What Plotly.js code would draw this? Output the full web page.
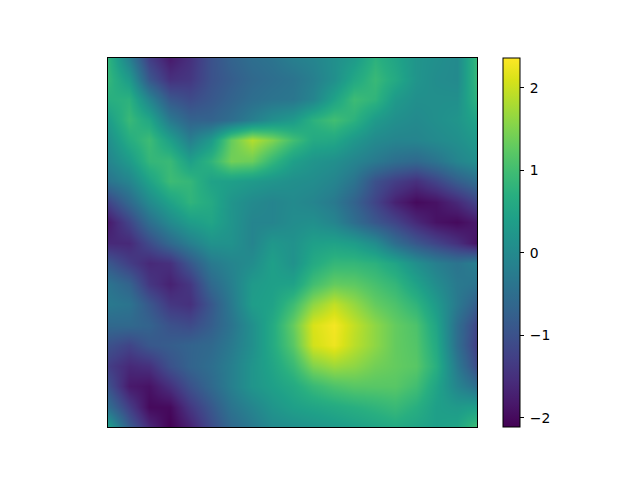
<!DOCTYPE html>
<html><head><meta charset="utf-8">
<script src="https://cdn.plot.ly/plotly-3.0.1.min.js"></script>
<style>html,body{margin:0;padding:0;background:#fff}</style></head>
<body><div id="c" style="width:640px;height:480px"></div>
<script>
const xs=[0,1,2,3,4,5,6,7,8,9,10,11,12,13,14,15,16,17,18];
const ys=[0,1,2,3,4,5,6,7,8,9,10,11,12,13,14,15,16,17,18];
const colorbarTicks=[-2,-1,0,1,2];
const zValues=[
[.8,-.2,-1.3,-1.8,-1.5,-1,-.7,-.5,-.4,-.2,-.1,.1,.3,.75,.5,.2,.1,0,.9],
[.85,.3,-.9,-1.5,-1.4,-1,-.8,-.6,-.5,-.4,-.2,.1,.55,.9,.6,.2,.05,0,.9],
[.7,.75,-.1,-.9,-1.1,-.9,-.7,-.5,-.4,-.35,-.1,.45,.95,.8,.3,.1,.1,.1,.8],
[.35,.9,.55,-.3,-.7,-.7,-.5,-.2,.1,.3,.75,1,.75,.3,.1,0,.1,.2,.5],
[.1,.65,.95,.4,-.2,.3,1.3,1.85,1.5,1,.6,.55,.25,0,-.1,-.1,0,.1,.3],
[-.1,.3,.85,.9,.4,.8,1.4,1.35,.85,.4,.2,.1,-.1,-.3,-.5,-.6,-.4,-.1,.1],
[-.4,-.1,.45,.95,.85,.45,.4,.3,.2,.1,.05,-.1,-.4,-1,-1.3,-1.5,-1.2,-.8,-.5],
[-1.2,-.6,0,.45,.8,.6,.2,0,-.1,0,-.1,-.3,-.7,-1.2,-1.7,-2,-1.9,-1.6,-1.2],
[-1.8,-1.2,-.5,0,.35,.5,.2,-.1,-.1,.05,.1,-.1,-.5,-.9,-1.2,-1.6,-1.9,-2,-1.8],
[-1.6,-1.6,-1.1,-.6,-.2,.15,.15,-.1,.25,.15,.4,.45,.35,.05,-.5,-.9,-1.2,-1.5,-1.9],
[-.9,-1.3,-1.6,-1.5,-.9,-.3,-.1,.05,.4,.15,.6,.85,.85,.75,.5,.1,-.2,-.4,-.2],
[-.4,-.7,-1.4,-1.7,-1.4,-.6,-.2,.3,.4,.45,1,1.3,1.25,1.05,.85,.45,.05,-.3,-.4],
[-.3,-.4,-.9,-1.4,-1.5,-.9,-.3,.35,.45,.95,1.6,1.95,1.65,1.3,1.1,.8,.3,-.3,-.8],
[-.6,-.6,-.7,-1,-1.1,-.8,-.4,.1,.6,1.3,2.1,2.3,1.95,1.6,1.3,1.1,.5,-.5,-1.2],
[-1,-1.2,-.9,-.8,-.7,-.6,-.3,.1,.6,1.2,2.05,2.25,1.9,1.6,1.3,1.15,.6,-.5,-1.3],
[-1.3,-1.6,-1.5,-1,-.7,-.5,-.2,.2,.5,.9,1.5,1.7,1.6,1.4,1.3,1.2,.7,-.3,-1.1],
[-1,-1.8,-1.9,-1.5,-1,-.6,-.2,.2,.4,.6,.9,1.1,1.2,1.2,1.2,1,.5,-.1,-.5],
[-.5,-1.3,-2,-2,-1.4,-.9,-.4,-.1,.2,.4,.5,.6,.7,.8,.9,.7,.4,.3,.4],
[.4,-.8,-1.6,-2.1,-1.7,-1.1,-.6,-.3,0,.1,.2,.3,.4,.5,.6,.5,.4,.5,1]
];
const hidden={showticklabels:false,ticks:'',showgrid:false,zeroline:false,showline:true,mirror:true,linecolor:'#000',linewidth:1};
Plotly.newPlot('c',[{type:'heatmap',x:xs,y:ys,z:zValues,zsmooth:'best',colorscale:'Viridis',zmin:-2.11,zmax:2.36,
 colorbar:{x:1.0705,xanchor:'left',y:0.5,yanchor:'middle',len:1,thickness:17,thicknessmode:'pixels',xpad:0,ypad:0,
  outlinewidth:1,outlinecolor:'#000',borderwidth:0,ticks:'outside',ticklen:4,tickwidth:1,tickcolor:'#000',
  tickvals:colorbarTicks,tickfont:{family:'DejaVu Sans',size:13.9,color:'#000'}}}],
 {width:640,height:480,margin:{l:108,r:163,t:58,b:53,pad:0},paper_bgcolor:'#fff',plot_bgcolor:'#fff',
  xaxis:Object.assign({range:[0,18],autorange:false},hidden),
  yaxis:Object.assign({range:[18,0],autorange:false},hidden)},
 {displayModeBar:false,staticPlot:true}).then(function(){
  document.querySelectorAll('.colorbar .cbaxis text, .colorbar .ytick text').forEach(function(t){
    t.setAttribute('x',parseFloat(t.getAttribute('x'))+3);
  });
 });
</script></body></html>
